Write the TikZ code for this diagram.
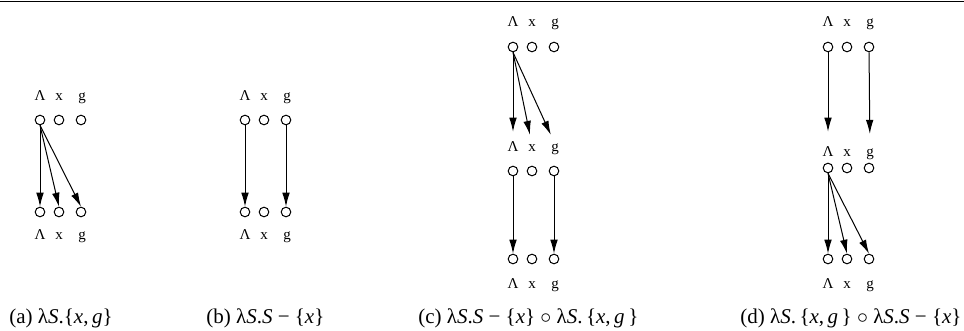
\documentclass[tikz,border=0pt]{standalone}
\usepackage{fontspec}
\setmainfont{Liberation Serif}
\usetikzlibrary{arrows.meta}
\newcommand\dotrow[3]{%
  \node[dot] (#1a) at (#2,#3) {};
  \node[dot] (#1x) at ({#2+19},#3) {};
  \node[dot] (#1g) at ({#2+41},#3) {};}
\newcommand\labrow[3]{%
  \node[lab] (#1la) at (#2,{#3+4}) {Λ};
  \node[lab] (#1lx) at ({#2+19},{#3+4}) {x};
  \node[lab] (#1lg) at ({#2+42},{#3+4}) {g};}
\begin{document}
\begin{tikzpicture}[x=0.5pt,y=-0.5pt,
  dot/.style={circle,draw,line width=0.5pt,minimum size=4.8pt,inner sep=0pt},
  lab/.style={font=\fontsize{7.5}{8}\selectfont,inner sep=0pt,anchor=base},
  captxt/.style={font=\fontsize{10.5}{12}\selectfont,anchor=west,inner sep=0pt},
  arr/.style={-{Latex[length=7pt,width=3.8pt]},line width=0.5pt},
  toprule/.style={line width=0.8pt}]
\useasboundingbox (0,0) rectangle (964,331);
\coordinate (rl) at (0,1.5);
\coordinate (rr) at (964,1.5);
\draw[toprule] (rl) -- (rr);
% (a)
\labrow{at}{40}{97}
\dotrow{at}{40}{120}
\dotrow{ab}{40}{212}
\labrow{ab}{40}{236}
\draw[arr] (ata.south) -- (aba.north);
\draw[arr] (ata.south) -- (abx.north);
\draw[arr] (ata.south) -- (abg.north);
\node[captxt] (capa) at (9,318) {(a) λ\textit{S}.\{\textit{x},\,\textit{g}\}};
% (b)
\labrow{bt}{245}{97}
\dotrow{bt}{245}{120}
\dotrow{bb}{245}{212}
\labrow{bb}{245}{236}
\draw[arr] (bta) -- (bba);
\draw[arr] (btg) -- (bbg);
\node[captxt] (capb) at (206,318) {(b) λ\textit{S}.\textit{S} − \{\textit{x}\}};
% (c)
\labrow{ct}{513}{23}
\dotrow{ct}{513}{47}
\labrow{cm}{513}{148}
\dotrow{cm}{513}{171}
\dotrow{cb}{513}{259}
\labrow{cb}{513}{285}
\draw[arr,shorten >=5pt] (cta.south) -- (cmla.north);
\draw[arr,shorten >=5pt] (cta.south) -- (cmlx.north);
\draw[arr,shorten >=5pt] (cta.south) -- (cmlg.north);
\draw[arr] (cma) -- (cba);
\draw[arr] (cmg) -- (cbg);
\node[captxt] (capc) at (418,318) {(c) λ\textit{S}.\textit{S} − \{\textit{x}\} $\circ$ λ\textit{S}.\,\{\textit{x},\,\textit{g}\,\}};
% (d)
\labrow{dt}{828}{23}
\dotrow{dt}{828}{47}
\labrow{dm}{828}{153}
\dotrow{dm}{828}{168}
\dotrow{db}{828}{259}
\labrow{db}{828}{285}
\draw[arr,shorten >=7.5pt] (dta) -- (dmla);
\draw[arr,shorten >=7.5pt] (dtg) -- (dmlg);
\draw[arr] (dma.south) -- (dba.north);
\draw[arr] (dma.south) -- (dbx.north);
\draw[arr] (dma.south) -- (dbg.north);
\node[captxt] (capd) at (740,318) {(d) λ\textit{S}.\,\{\textit{x},\,\textit{g}\,\} $\circ$ λ\textit{S}.\textit{S} − \{\textit{x}\}};
\end{tikzpicture}
\end{document}
